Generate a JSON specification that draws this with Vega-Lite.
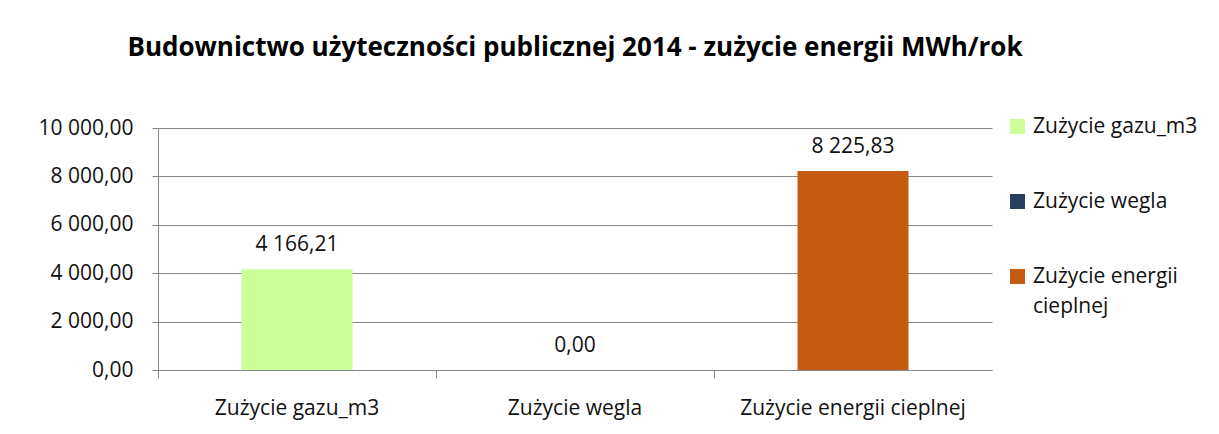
{
  "$schema": "https://vega.github.io/schema/vega-lite/v6.json",
  "autosize": {"type": "none"},
  "padding": {"left": 158, "top": 128, "right": 227, "bottom": 64},
  "width": 834,
  "height": 242,
  "background": "white",
  "config": {
    "locale": {"number": {"decimal": ",", "thousands": " ", "grouping": [3], "currency": ["", ""]}},
    "font": "Open Sans",
    "view": {"stroke": null},
    "axis": {"labelFont": "Open Sans", "labelColor": "#111111", "domainColor": "#868686", "tickColor": "#868686", "gridColor": "#868686"}
  },
  "title": {
    "text": "Budownictwo użyteczności publicznej 2014 - zużycie energii MWh/rok",
    "font": "Open Sans",
    "fontSize": 26,
    "fontWeight": "bold",
    "color": "#000000",
    "anchor": "middle",
    "offset": 55
  },
  "data": {
    "values": [
      {"cat": "Zużycie gazu_m3", "value": 4166.21},
      {"cat": "Zużycie wegla", "value": 0},
      {"cat": "Zużycie energii cieplnej", "value": 8225.83}
    ]
  },
  "encoding": {
    "x": {"field": "cat", "type": "nominal", "sort": null,
      "scale": {"paddingInner": 0, "paddingOuter": 0}},
    "y": {"field": "value", "type": "quantitative",
      "scale": {"domain": [0, 10000], "nice": false},
      "axis": {"title": null, "values": [0, 2000, 4000, 6000, 8000, 10000], "format": ",.2f",
        "labelFontSize": 21, "labelPadding": 19, "tickSize": 6, "grid": true, "domain": true}}
  },
  "layer": [
    {
      "mark": {"type": "bar", "width": 111},
      "encoding": {
        "x": {"field": "cat", "type": "nominal", "sort": null,
          "axis": {"title": null, "orient": "bottom", "labelAngle": 0, "labelFontSize": 21, "labelLimit": 400, "ticks": false, "labelPadding": 27, "domain": true}},
        "color": {"field": "cat", "type": "nominal", "sort": null,
          "scale": {"domain": ["Zużycie gazu_m3", "Zużycie wegla", "Zużycie energii cieplnej"],
            "range": ["#ccff99", "#254061", "#c55a11"]},
          "legend": {"title": null, "orient": "none", "legendX": 849, "legendY": -12,
            "symbolType": "square", "symbolSize": 225, "symbolStrokeWidth": 0,
            "labelFontSize": 21, "labelFont": "Open Sans", "labelColor": "#111111", "rowPadding": 53,
            "labelOffset": 5, "labelLimit": 300,
            "labelExpr": "datum.label == 'Zużycie energii cieplnej' ? ['Zużycie energii', 'cieplnej'] : datum.label",
            "encode": {"labels": {"update": {"lineHeight": {"value": 30}}}}}
        }
      }
    },
    {
      "mark": {"type": "text", "fontSize": 21, "baseline": "alphabetic", "dy": -18, "color": "#111111", "font": "Open Sans"},
      "encoding": {
        "x": {"field": "cat", "type": "nominal", "sort": null,
          "axis": {"title": null, "orient": "bottom", "labels": false, "ticks": true, "tickSize": 8, "bandPosition": 0, "domain": false, "grid": false}},
        "text": {"field": "value", "type": "quantitative", "format": ",.2f"}
      }
    }
  ],
  "resolve": {"axis": {"x": "independent"}}
}
